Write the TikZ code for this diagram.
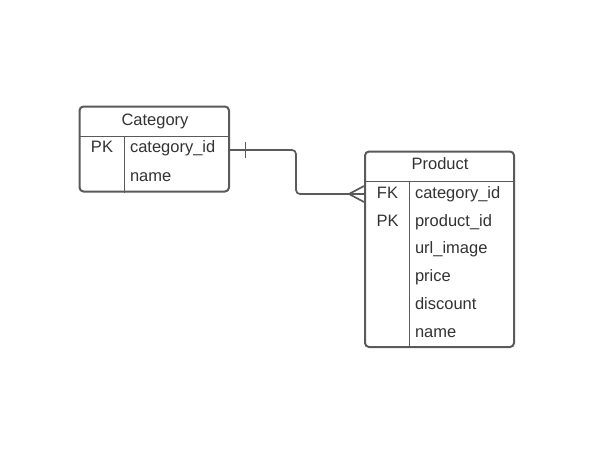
\documentclass[tikz,border=0pt]{standalone}
\usepackage{fontspec}
\setmainfont{Liberation Sans}
\begin{document}
\begin{tikzpicture}[x=1pt,y=-1pt,
  line width=2pt,
  every node/.style={text=txt, font=\fontsize{16.5}{19}\selectfont, inner sep=0pt},
  tbl/.style={draw=ln, rounded corners=4pt, line width=2pt},
  sep/.style={draw=ln, line width=1.7pt},
  conn/.style={draw=ln, line width=1.7pt, rounded corners=4pt}]
\definecolor{ln}{HTML}{5A5A5A}
\definecolor{txt}{HTML}{333333}
\useasboundingbox[fill=white] (0,0) rectangle (601,455);
% Category table
\node[tbl, minimum width=149.5pt, minimum height=85pt] (cat) at (154.25,149) {};
\coordinate (cath) at (79.5,136.5);
\coordinate (catv) at (124.5,136.5);
\draw[sep] (cath) -- (cath -| cat.east);
\draw[sep] (catv) -- (catv |- cat.south);
\node[anchor=base] (catT) at (155,125) {Category};
\node[anchor=base] (catk1) at (102,152) {PK};
\node[anchor=base west] (catr1) at (129,152) {category\_id};
\node[anchor=base west] (catr2) at (129,181) {name};
% Product table
\node[tbl, minimum width=149pt, minimum height=195.5pt] (prod) at (439.5,249.25) {};
\coordinate (prodh) at (365,181.5);
\coordinate (prodv) at (409.5,181.5);
\draw[sep] (prodh) -- (prodh -| prod.east);
\draw[sep] (prodv) -- (prodv |- prod.south);
\node[anchor=base] (prodT) at (440,169.5) {Product};
\node[anchor=base] (pk1) at (387.5,198) {FK};
\node[anchor=base] (pk2) at (387.5,226) {PK};
\node[anchor=base west] (pr1) at (414,198) {category\_id};
\node[anchor=base west] (pr2) at (414,226) {product\_id};
\node[anchor=base west] (pr3) at (414,253.5) {url\_image};
\node[anchor=base west] (pr4) at (414,281.5) {price};
\node[anchor=base west] (pr5) at (414,309.5) {discount};
\node[anchor=base west] (pr6) at (414,337.5) {name};
% connector
\coordinate (cs) at (cat.east |- 0,150);
\coordinate (pe) at (prod.west |- 0,194);
\draw[conn] (cs) -- (296,150) -- (296,194) -- (pe);
\draw[sep] (245.5,142) -- (245.5,157.5);
\coordinate (crow) at (349,194);
\draw[sep] (prod.west |- 0,186) -- (crow) -- (prod.west |- 0,202);
\end{tikzpicture}
\end{document}
